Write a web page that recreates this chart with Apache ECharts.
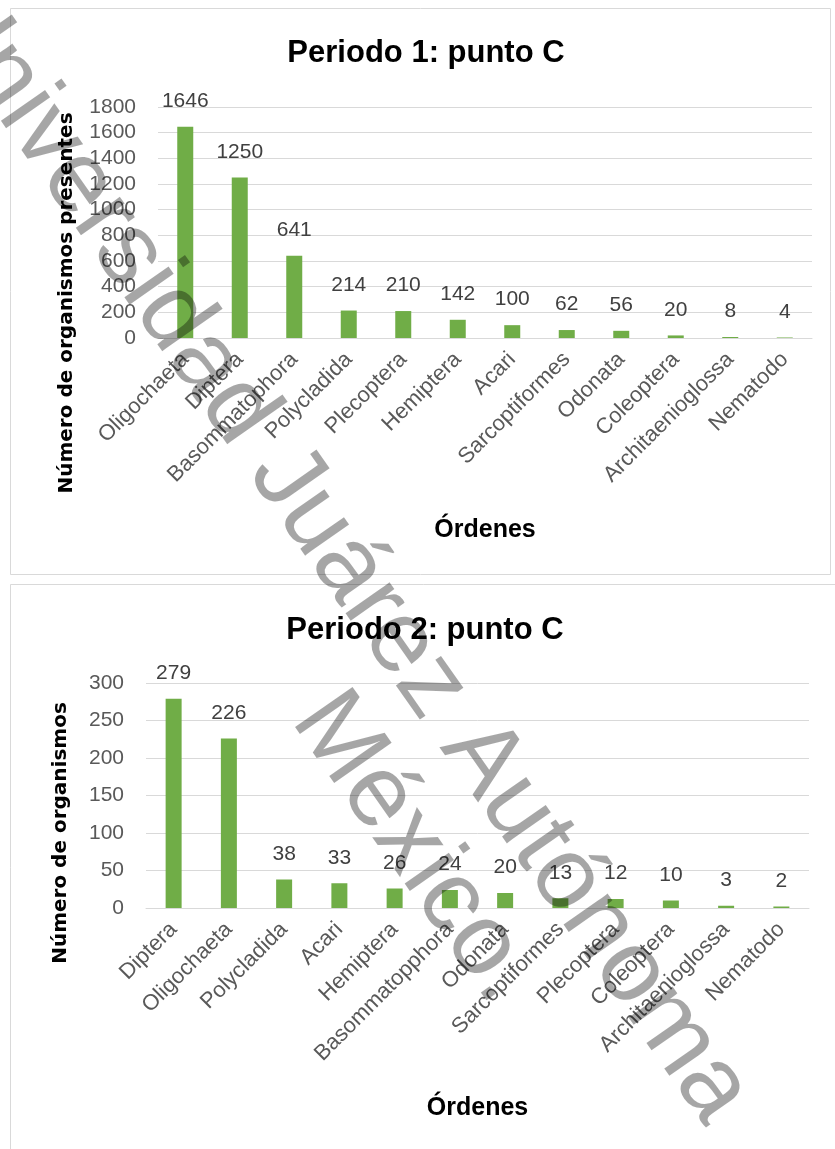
<!DOCTYPE html>
<html>
<head>
<meta charset="utf-8">
<script src="https://cdn.jsdelivr.net/npm/echarts@6/dist/echarts.min.js"></script>
<style>
  html, body { margin: 0; padding: 0; background: #ffffff; }
  #chart { width: 835px; height: 1149px; }
</style>
</head>
<body>
<div id="chart"></div>
<script>
// ---- Data ----
const title1 = 'Periodo 1: punto C';
const title2 = 'Periodo 2: punto C';
const yName1 = 'Número de organismos presentes';
const yName2 = 'Número de organismos';
const xName = 'Órdenes';

const cats1 = ['Oligochaeta', 'Diptera', 'Basommatophora', 'Polycladida', 'Plecoptera', 'Hemiptera', 'Acari', 'Sarcoptiformes', 'Odonata', 'Coleoptera', 'Architaenioglossa', 'Nematodo'];
const vals1 = [1646, 1250, 641, 214, 210, 142, 100, 62, 56, 20, 8, 4];

const cats2 = ['Diptera', 'Oligochaeta', 'Polycladida', 'Acari', 'Hemiptera', 'Basommatopphora', 'Odonata', 'Sarcoptiformes', 'Plecoptera', 'Coleoptera', 'Architaenioglossa', 'Nematodo'];
const vals2 = [279, 226, 38, 33, 26, 24, 20, 13, 12, 10, 3, 2];

const yMax1 = 1800, yStep1 = 200;
const yMax2 = 300, yStep2 = 50;

const watermark1 = 'Universidad Juárez Autónoma';
const watermark2 = 'México.';

// ---- Styles ----
const FONT = '"Liberation Sans", Arial, sans-serif';
const GREEN = '#70ad47';
const GRID = '#d9d9d9';
const AXIS_TXT = '#595959';
const LABEL_TXT = '#404040';

function xAxisCfg(gi, cats) {
  return {
    gridIndex: gi, type: 'category', data: cats,
    axisLine: { lineStyle: { color: GRID, width: 1 } },
    axisTick: { show: false },
    axisLabel: { interval: 0, rotate: 45, fontSize: 22, color: AXIS_TXT, fontFamily: FONT, margin: 18 },
    name: xName, nameLocation: 'middle', nameGap: gi === 0 ? 180 : 188,
    nameTextStyle: { fontSize: 25, fontWeight: 'bold', color: '#000', fontFamily: FONT }
  };
}
function yAxisCfg(gi, max, step) {
  return {
    gridIndex: gi, type: 'value', min: 0, max: max, interval: step,
    axisLine: { show: false }, axisTick: { show: false },
    axisLabel: { fontSize: 21, color: AXIS_TXT, fontFamily: FONT, margin: 22, formatter: v => String(v) },
    splitLine: { lineStyle: { color: GRID, width: 1 } }
  };
}
function barSeries(i, vals) {
  return {
    type: 'bar', xAxisIndex: i, yAxisIndex: i, data: vals, barWidth: 16,
    itemStyle: { color: GREEN },
    label: { show: true, position: 'top', distance: 15, fontSize: 21, color: LABEL_TXT, fontFamily: FONT }
  };
}
const rad = -55 * Math.PI / 180;

const chart = echarts.init(document.getElementById('chart'), null, { renderer: 'canvas' });
chart.setOption({
  backgroundColor: '#ffffff',
  animation: false,
  grid: [
    { left: 158, top: 107, width: 654, height: 231 },
    { left: 146, top: 683, width: 663, height: 225 }
  ],
  xAxis: [xAxisCfg(0, cats1), xAxisCfg(1, cats2)],
  yAxis: [yAxisCfg(0, yMax1, yStep1), yAxisCfg(1, yMax2, yStep2)],
  series: [barSeries(0, vals1), barSeries(1, vals2)],
  graphic: [
    { type: 'rect', z: 0, silent: true, shape: { x: 10.5, y: 8.5, width: 820, height: 566 },
      style: { fill: 'none', stroke: GRID, lineWidth: 1 } },
    { type: 'rect', z: 0, silent: true, shape: { x: 10.5, y: 584.5, width: 840, height: 600 },
      style: { fill: 'none', stroke: GRID, lineWidth: 1 } },
    { type: 'text', x: 426, y: 53, z: 10,
      style: { text: title1, font: 'bold 31px ' + FONT, fill: '#000', textAlign: 'center', textVerticalAlign: 'middle' } },
    { type: 'text', x: 425, y: 630, z: 10,
      style: { text: title2, font: 'bold 31px ' + FONT, fill: '#000', textAlign: 'center', textVerticalAlign: 'middle' } },
    { type: 'text', x: 67, y: 303, rotation: Math.PI / 2, z: 10,
      style: { text: yName1, font: 'bold 20px "DejaVu Sans", sans-serif', fill: '#000', textAlign: 'center', textVerticalAlign: 'middle' } },
    { type: 'text', x: 61, y: 833, rotation: Math.PI / 2, z: 10,
      style: { text: yName2, font: 'bold 20px "DejaVu Sans", sans-serif', fill: '#000', textAlign: 'center', textVerticalAlign: 'middle' } },
    { type: 'text', x: 337, y: 552, rotation: rad, z: 100, silent: true,
      style: { text: watermark1, font: '102px ' + FONT, fill: 'rgba(0,0,0,0.35)', textAlign: 'center', textVerticalAlign: 'middle' } },
    { type: 'text', x: 414, y: 848, rotation: rad, z: 100, silent: true,
      style: { text: watermark2, font: '102px ' + FONT, fill: 'rgba(0,0,0,0.35)', textAlign: 'center', textVerticalAlign: 'middle' } }
  ]
});
</script>
</body>
</html>
